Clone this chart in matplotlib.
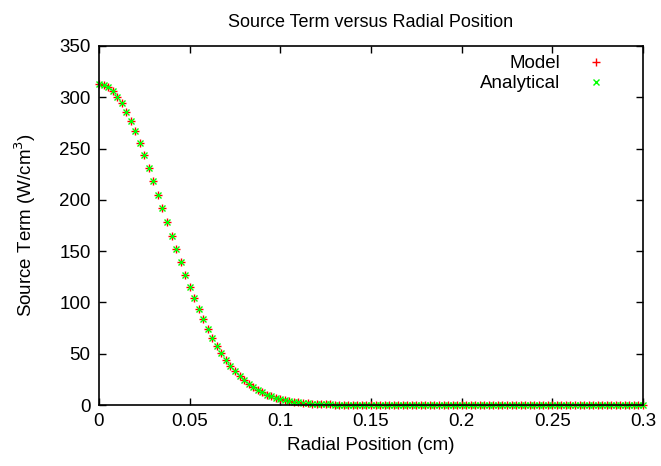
import matplotlib
matplotlib.use("Agg")
import matplotlib.pyplot as plt

plt.rcParams['font.family'] = ['Liberation Sans', 'DejaVu Sans']

radius = [
    0.0000, 0.0025, 0.0050, 0.0075, 0.0100, 0.0125, 0.0150, 0.0175, 0.0200, 0.0225,
    0.0250, 0.0275, 0.0300, 0.0325, 0.0350, 0.0375, 0.0400, 0.0425, 0.0450, 0.0475,
    0.0500, 0.0525, 0.0550, 0.0575, 0.0600, 0.0625, 0.0650, 0.0675, 0.0700, 0.0725,
    0.0750, 0.0775, 0.0800, 0.0825, 0.0850, 0.0875, 0.0900, 0.0925, 0.0950, 0.0975,
    0.1000, 0.1025, 0.1050, 0.1075, 0.1100, 0.1125, 0.1150, 0.1175, 0.1200, 0.1225,
    0.1250, 0.1275, 0.1300, 0.1325, 0.1350, 0.1375, 0.1400, 0.1425, 0.1450, 0.1475,
    0.1500, 0.1525, 0.1550, 0.1575, 0.1600, 0.1625, 0.1650, 0.1675, 0.1700, 0.1725,
    0.1750, 0.1775, 0.1800, 0.1825, 0.1850, 0.1875, 0.1900, 0.1925, 0.1950, 0.1975,
    0.2000, 0.2025, 0.2050, 0.2075, 0.2100, 0.2125, 0.2150, 0.2175, 0.2200, 0.2225,
    0.2250, 0.2275, 0.2300, 0.2325, 0.2350, 0.2375, 0.2400, 0.2425, 0.2450, 0.2475,
    0.2500, 0.2525, 0.2550, 0.2575, 0.2600, 0.2625, 0.2650, 0.2675, 0.2700, 0.2725,
    0.2750, 0.2775, 0.2800, 0.2825, 0.2850, 0.2875, 0.2900, 0.2925, 0.2950, 0.2975,
    0.3000,
]

model = [
    313.0, 312.2, 309.9, 306.0, 300.7, 294.0, 286.1, 276.9, 266.7, 255.6,
    243.8, 231.3, 218.4, 205.1, 191.8, 178.3, 165.0, 152.0, 139.2, 127.0,
    115.1, 103.9, 93.3, 83.4, 74.2, 65.6, 57.8, 50.6, 44.1, 38.2,
    33.0, 28.3, 24.2, 20.6, 17.4, 14.6, 12.3, 10.2, 8.5, 7.0,
    5.7, 4.7, 3.8, 3.1, 2.5, 2.0, 1.6, 1.3, 1.0, 0.8,
    0.6, 0.5, 0.4, 0.3, 0.2, 0.2, 0.1, 0.1, 0.1, 0.0,
    0.0, 0.0, 0.0, 0.0, 0.0, 0.0, 0.0, 0.0, 0.0, 0.0,
    0.0, 0.0, 0.0, 0.0, 0.0, 0.0, 0.0, 0.0, 0.0, 0.0,
    0.0, 0.0, 0.0, 0.0, 0.0, 0.0, 0.0, 0.0, 0.0, 0.0,
    0.0, 0.0, 0.0, 0.0, 0.0, 0.0, 0.0, 0.0, 0.0, 0.0,
    0.0, 0.0, 0.0, 0.0, 0.0, 0.0, 0.0, 0.0, 0.0, 0.0,
    0.0, 0.0, 0.0, 0.0, 0.0, 0.0, 0.0, 0.0, 0.0, 0.0,
    0.0,
]

analytical = [
    313.0, 312.2, 309.9, 306.0, 300.7, 294.0, 286.1, 276.9, 266.7, 255.6,
    243.8, 231.3, 218.4, 205.1, 191.8, 178.3, 165.0, 152.0, 139.2, 127.0,
    115.1, 103.9, 93.3, 83.4, 74.2, 65.6, 57.8, 50.6, 44.1, 38.2,
    33.0, 28.3, 24.2, 20.6, 17.4, 14.6, 12.3, 10.2, 8.5, 7.0,
    5.7, 4.7, 3.8, 3.1, 2.5, 2.0, 1.6, 1.3, 1.0, 0.8,
    0.6, 0.5, 0.4, 0.3, 0.2, 0.2, 0.1, 0.1, 0.1, 0.0,
    0.0, 0.0, 0.0, 0.0, 0.0, 0.0, 0.0, 0.0, 0.0, 0.0,
    0.0, 0.0, 0.0, 0.0, 0.0, 0.0, 0.0, 0.0, 0.0, 0.0,
    0.0, 0.0, 0.0, 0.0, 0.0, 0.0, 0.0, 0.0, 0.0, 0.0,
    0.0, 0.0, 0.0, 0.0, 0.0, 0.0, 0.0, 0.0, 0.0, 0.0,
    0.0, 0.0, 0.0, 0.0, 0.0, 0.0, 0.0, 0.0, 0.0, 0.0,
    0.0, 0.0, 0.0, 0.0, 0.0, 0.0, 0.0, 0.0, 0.0, 0.0,
    0.0,
]

x_ticks = [0, 0.05, 0.1, 0.15, 0.2, 0.25, 0.3]
x_tick_labels = ["0", "0.05", "0.1", "0.15", "0.2", "0.25", "0.3"]
y_ticks = [0, 50, 100, 150, 200, 250, 300, 350]

fig = plt.figure(figsize=(6.61, 4.66), dpi=100)
ax = fig.add_axes([99 / 661, 1 - 405 / 466, (643 - 99) / 661, (405 - 46) / 466])

ax.plot(radius, model, linestyle='none', marker='+', color='#ff0000',
        markersize=6, markeredgewidth=1.0, label='Model', clip_on=False)
ax.plot(radius, analytical, linestyle='none', marker='x', color='#00ff00',
        markersize=5, markeredgewidth=1.0, label='Analytical', clip_on=False)

ax.set_xlim(0, 0.3)
ax.set_ylim(0, 350)
ax.set_xticks(x_ticks)
ax.set_xticklabels(x_tick_labels)
ax.set_yticks(y_ticks)
ax.tick_params(direction='in', length=5, width=1, top=True, right=True,
               labelsize=13.5, pad=6, colors='black')
for s in ax.spines.values():
    s.set_linewidth(1.2)
    s.set_color('black')

ax.set_xlabel('Radial Position (cm)', fontsize=13.5, labelpad=5)
ax.set_ylabel('Source Term (W/cm$^3$)', fontsize=13.5, labelpad=15)
ax.set_title('Source Term versus Radial Position', fontsize=13, pad=14)

leg = ax.legend(loc='upper right', frameon=False, markerfirst=False,
                fontsize=13.5, handlelength=1.5, handletextpad=1.2,
                borderaxespad=0.0, labelspacing=0.15, bbox_to_anchor=(0.954, 0.995))

fig.savefig('out.png', dpi=100)
